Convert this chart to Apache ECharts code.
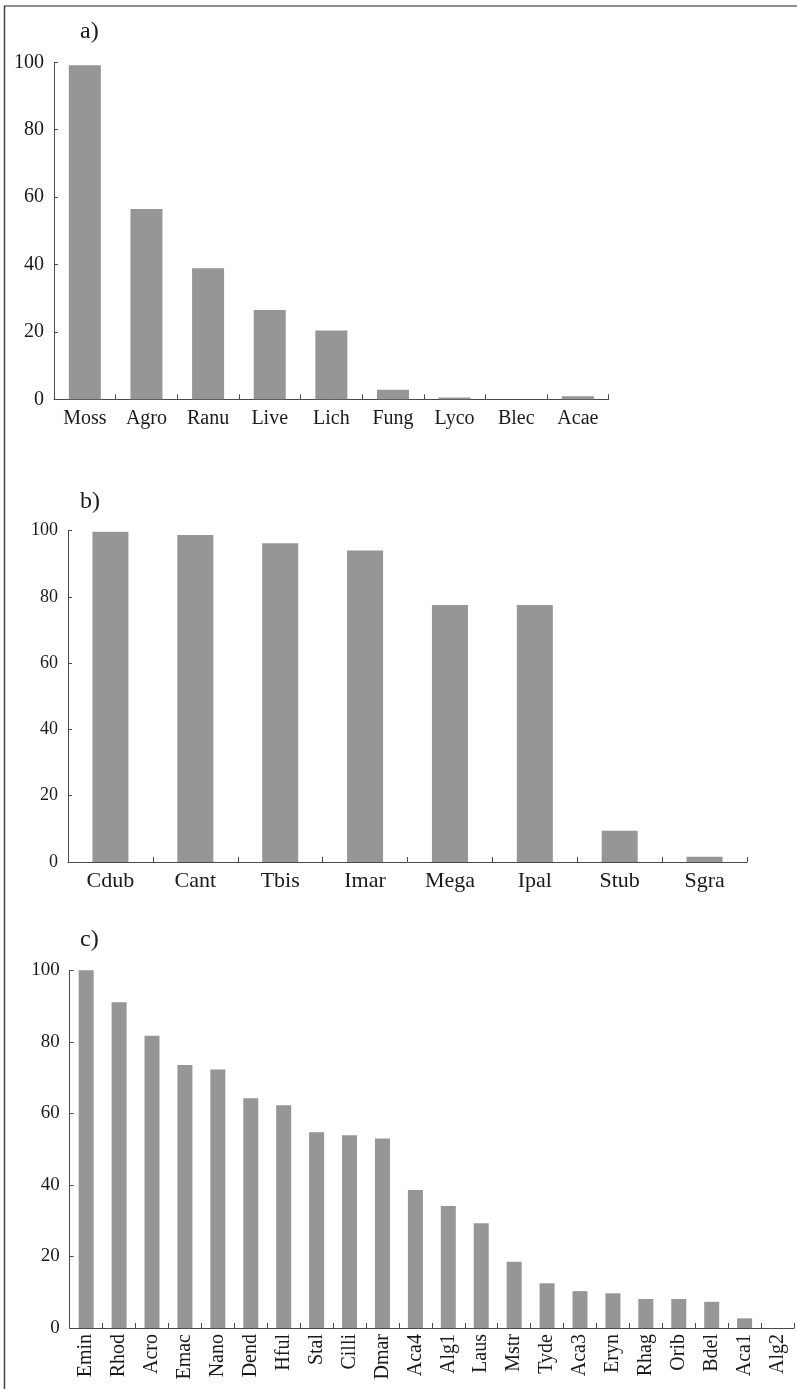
<!DOCTYPE html>
<html>
<head>
<meta charset="utf-8">
<title>Frequency of occurrence</title>
<script src="https://cdn.jsdelivr.net/npm/echarts@6/dist/echarts.min.js"></script>
<style>
  html, body { margin: 0; padding: 0; background: #ffffff; }
  #chart { width: 797px; height: 1389px; }
</style>
</head>
<body>
<div id="chart"></div>
<script>
// Panel a) – vegetation groups
const catsA = ['Moss', 'Agro', 'Ranu', 'Live', 'Lich', 'Fung', 'Lyco', 'Blec', 'Acae'];
const valsA = [99.1, 56.5, 38.9, 26.5, 20.4, 2.8, 0.5, 0, 0.9];

// Panel b) – invertebrate groups
const catsB = ['Cdub', 'Cant', 'Tbis', 'Imar', 'Mega', 'Ipal', 'Stub', 'Sgra'];
const valsB = [99.7, 98.7, 96.2, 94.0, 77.6, 77.6, 9.4, 1.6];

// Panel c) – microarthropod and algal taxa
const catsC = ['Emin', 'Rhod', 'Acro', 'Emac', 'Nano', 'Dend', 'Hful', 'Stal', 'Cilli', 'Dmar',
  'Aca4', 'Alg1', 'Laus', 'Mstr', 'Tyde', 'Aca3', 'Eryn', 'Rhag', 'Orib', 'Bdel', 'Aca1', 'Alg2'];
const valsC = [100, 91.1, 81.7, 73.5, 72.3, 64.2, 62.3, 54.7, 53.9, 53.0,
  38.6, 34.1, 29.3, 18.5, 12.5, 10.3, 9.7, 8.1, 8.1, 7.3, 2.7, 0];

const yTicks = [0, 20, 40, 60, 80, 100];

const FONT = '"Liberation Serif", "Times New Roman", serif';
const INK = '#1a1a1a';
const AXIS = '#4a4a4a';
const BAR = '#959698';

const chart = echarts.init(document.getElementById('chart'), null, { renderer: 'canvas' });

function yAxis(gridIndex, fontSize) {
  return {
    type: 'value', gridIndex,
    min: yTicks[0], max: yTicks[yTicks.length - 1], interval: yTicks[1] - yTicks[0],
    axisLine: { show: true, lineStyle: { color: AXIS, width: 1 } },
    axisTick: { show: true, inside: true, length: 4, lineStyle: { color: AXIS } },
    splitLine: { show: false },
    axisLabel: { fontFamily: FONT, fontSize, color: INK, margin: 10 }
  };
}

function xAxis(gridIndex, data, label) {
  return {
    type: 'category', gridIndex, data,
    axisLine: { show: true, lineStyle: { color: AXIS, width: 1 } },
    axisTick: { show: true, inside: true, length: 5, interval: 0, lineStyle: { color: AXIS } },
    axisLabel: Object.assign({ fontFamily: FONT, color: INK, interval: 0 }, label)
  };
}

function bars(i, data, barWidth) {
  return {
    type: 'bar', xAxisIndex: i, yAxisIndex: i, data, barWidth,
    itemStyle: { color: BAR },
    silent: true, animation: false
  };
}

const panelLabel = (text, x, y) => ({
  type: 'text', left: x, top: y,
  style: { text, font: '24px ' + FONT, fill: INK }
});

chart.setOption({
  animation: false,
  grid: [
    { left: 54, top: 62.3, width: 554.7, height: 337 },
    { left: 68, top: 530.7, width: 679, height: 331.3 },
    { left: 69.7, top: 970.3, width: 724.3, height: 357.7 }
  ],
  xAxis: [
    xAxis(0, catsA, { fontSize: 20, margin: 9 }),
    xAxis(1, catsB, { fontSize: 22, margin: 8 }),
    xAxis(2, catsC, { fontSize: 20, margin: 6, rotate: 90 })
  ],
  yAxis: [yAxis(0, 20), yAxis(1, 18), yAxis(2, 19)],
  series: [bars(0, valsA, 32), bars(1, valsB, 36), bars(2, valsC, 15)],
  graphic: [
    // page frame (left and top rules)
    { type: 'line', shape: { x1: 4.5, y1: 6, x2: 4.5, y2: 1389 }, style: { stroke: '#444', lineWidth: 1.5 } },
    { type: 'line', shape: { x1: 4, y1: 6, x2: 797, y2: 6 }, style: { stroke: '#222', lineWidth: 1.2 } },
    panelLabel('a)', 80, 20),
    panelLabel('b)', 80, 490),
    panelLabel('c)', 80, 928)
  ]
});
</script>
</body>
</html>
